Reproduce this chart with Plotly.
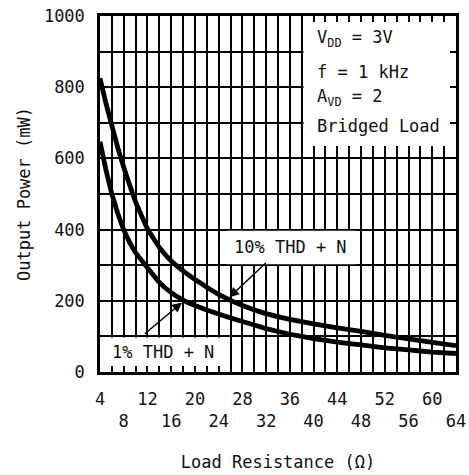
import plotly.graph_objects as go

# ---- data ----
resistance = [4, 5, 6, 7, 8, 9, 10, 12, 14, 16, 18, 20, 22, 24, 26, 28, 32, 36, 40, 44, 48, 52, 56, 60, 64]
power_10pct = [825, 755, 692, 630, 575, 525, 478, 402, 350, 312, 284, 260, 238, 218, 201, 187, 164, 148, 135, 124, 114, 103, 93, 83, 74]
power_1pct = [647, 568, 500, 445, 400, 364, 335, 293, 252, 223, 202, 187, 174, 163, 152, 142, 122, 106, 94, 84, 76, 68, 62, 56, 52]

x_tickvals = [4, 8, 12, 16, 20, 24, 28, 32, 36, 40, 44, 48, 52, 56, 60, 64]
x_ticktext = ["4", "<br>8", "12", "<br>16", "20", "<br>24", "28", "<br>32",
              "36", "<br>40", "44", "<br>48", "52", "<br>56", "60", "<br>64"]
y_tickvals = [0, 200, 400, 600, 800, 1000]
y_ticktext = ["0", "200", "400", "600", "800", "1000"]

FONT = "DejaVu Sans Mono"
fs = 17
TXT = dict(family=FONT, size=fs, color="#111111")

fig = go.Figure()
fig.add_trace(go.Scatter(x=resistance, y=power_10pct, mode="lines",
                         line=dict(color="black", width=4.8, shape="spline", smoothing=0.3),
                         showlegend=False, hoverinfo="skip"))
fig.add_trace(go.Scatter(x=resistance, y=power_1pct, mode="lines",
                         line=dict(color="black", width=4.8, shape="spline", smoothing=0.3),
                         showlegend=False, hoverinfo="skip"))

# white boxes covering grid
for (x0, x1, y0, y1) in [(38.3, 64, 635, 1000), (25.4, 47.1, 303, 397), (4, 25.5, 0, 97)]:
    fig.add_shape(type="rect", xref="x", yref="y", x0=x0, x1=x1, y0=y0, y1=y1,
                  fillcolor="white", line=dict(width=0), layer="between")

# conditions text
cond = [("V<sub>DD</sub> = 3V", 938), ("f = 1 kHz", 843), ("A<sub>VD</sub> = 2", 770), ("Bridged Load", 691)]
for txt, yy in cond:
    fig.add_annotation(x=40.3, y=yy, xref="x", yref="y", text=txt, showarrow=False,
                       xanchor="left", yanchor="middle", font=TXT)

fig.add_annotation(x=36.1, y=351, xref="x", yref="y", text="10% THD + N", showarrow=False,
                   xanchor="center", yanchor="middle", font=TXT)
fig.add_annotation(x=14.7, y=57, xref="x", yref="y", text="1% THD + N", showarrow=False,
                   xanchor="center", yanchor="middle", font=TXT)

# arrows
fig.add_annotation(x=25.8, y=210, ax=32.2, ay=310, xref="x", yref="y", axref="x", ayref="y",
                   text="", showarrow=True, arrowhead=2, arrowsize=1.3, arrowwidth=1.5, arrowcolor="black")
fig.add_annotation(x=17.8, y=195, ax=11.3, ay=104, xref="x", yref="y", axref="x", ayref="y",
                   text="", showarrow=True, arrowhead=2, arrowsize=1.3, arrowwidth=1.5, arrowcolor="black")

MINOR_X = dict(tick0=4, dtick=2, showgrid=True, gridcolor="black", gridwidth=2,
               ticks="inside", ticklen=6, tickwidth=2, tickcolor="black")
MINOR_Y = dict(tick0=0, dtick=100, showgrid=True, gridcolor="black", gridwidth=2,
               ticks="inside", ticklen=6, tickwidth=2, tickcolor="black")

fig.update_xaxes(range=[4, 64], tickvals=x_tickvals, ticktext=x_ticktext, automargin=False,
                 showgrid=True, gridcolor="black", gridwidth=2, minor=MINOR_X,
                 ticks="inside", ticklen=6, tickwidth=2, tickcolor="black",
                 showline=True, linecolor="black", linewidth=2.5, mirror="ticks",
                 zeroline=False, ticklabelstandoff=10,
                 tickfont=TXT,
                 title=dict(text="Load Resistance (Ω)", font=TXT, standoff=26))
fig.update_yaxes(range=[0, 1000], tickvals=y_tickvals, ticktext=y_ticktext, automargin=False,
                 showgrid=True, gridcolor="black", gridwidth=2, minor=MINOR_Y,
                 ticks="inside", ticklen=6, tickwidth=2, tickcolor="black",
                 showline=True, linecolor="black", linewidth=2.5, mirror="ticks",
                 zeroline=False, ticklabelstandoff=9,
                 tickfont=TXT,
                 title=dict(text="Output Power (mW)", font=TXT, standoff=9))

fig.update_layout(width=469, height=475, margin=dict(l=100, r=13, t=16, b=103),
                  paper_bgcolor="white", plot_bgcolor="white", showlegend=False)

fig.write_html("out.html", config={"displayModeBar": False},
               post_script="document.body.style.margin='0px';")
